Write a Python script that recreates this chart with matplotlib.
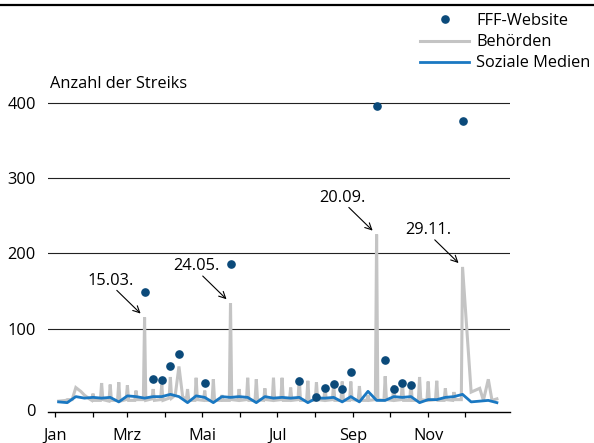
import matplotlib
matplotlib.use('Agg')
import matplotlib.pyplot as plt
from matplotlib.lines import Line2D
import pandas as pd

plt.rcParams['font.family'] = ['Open Sans', 'DejaVu Sans']
plt.rcParams['font.size'] = 11.8

# FFF-Website: Freitage mit gemeldeten Streiks
fff_dates = ['2019-03-15', '2019-03-22', '2019-03-29', '2019-04-05', '2019-04-12',
             '2019-05-03', '2019-05-24', '2019-07-19', '2019-08-02', '2019-08-09',
             '2019-08-16', '2019-08-23', '2019-08-30', '2019-09-20', '2019-09-27',
             '2019-10-04', '2019-10-11', '2019-10-18', '2019-11-29']
fff_values = [149, 34, 32, 51, 66, 28, 186, 31, 10, 22, 27, 20, 43, 395, 59, 20, 28, 26, 376]

# Behoerden: Tage mit Meldungen
behoerden_dates = [
    '2019-01-04', '2019-01-10', '2019-01-11', '2019-01-15', '2019-01-18', '2019-01-22',
    '2019-01-25', '2019-01-29', '2019-01-31', '2019-02-01', '2019-02-02',
    '2019-02-07', '2019-02-08', '2019-02-09', '2019-02-14', '2019-02-15', '2019-02-16',
    '2019-02-21', '2019-02-22', '2019-02-23', '2019-02-28', '2019-03-01', '2019-03-02',
    '2019-03-07', '2019-03-08', '2019-03-09', '2019-03-14', '2019-03-15', '2019-03-16',
    '2019-03-21', '2019-03-22', '2019-03-23', '2019-03-28', '2019-03-29', '2019-03-30',
    '2019-04-04', '2019-04-05', '2019-04-06', '2019-04-09', '2019-04-12', '2019-04-15',
    '2019-04-18', '2019-04-19', '2019-04-20', '2019-04-25', '2019-04-26', '2019-04-27',
    '2019-05-02', '2019-05-03', '2019-05-04', '2019-05-09', '2019-05-10', '2019-05-11',
    '2019-05-16', '2019-05-17', '2019-05-18', '2019-05-23', '2019-05-24', '2019-05-25',
    '2019-05-30', '2019-05-31', '2019-06-01', '2019-06-06', '2019-06-07', '2019-06-08',
    '2019-06-13', '2019-06-14', '2019-06-15', '2019-06-20', '2019-06-21', '2019-06-22',
    '2019-06-27', '2019-06-28', '2019-06-29', '2019-07-04', '2019-07-05', '2019-07-06',
    '2019-07-11', '2019-07-12', '2019-07-13', '2019-07-18', '2019-07-19', '2019-07-20',
    '2019-07-25', '2019-07-26', '2019-07-27', '2019-08-01', '2019-08-02', '2019-08-03',
    '2019-08-08', '2019-08-09', '2019-08-10', '2019-08-15', '2019-08-16', '2019-08-17',
    '2019-08-22', '2019-08-23', '2019-08-24', '2019-08-29', '2019-08-30', '2019-08-31',
    '2019-09-05', '2019-09-06', '2019-09-07', '2019-09-12', '2019-09-13', '2019-09-14',
    '2019-09-19', '2019-09-20', '2019-09-21', '2019-09-26', '2019-09-27', '2019-09-28',
    '2019-10-03', '2019-10-04', '2019-10-05', '2019-10-10', '2019-10-11', '2019-10-12',
    '2019-10-17', '2019-10-18', '2019-10-19', '2019-10-24', '2019-10-25', '2019-10-26',
    '2019-10-31', '2019-11-01', '2019-11-02', '2019-11-07', '2019-11-08', '2019-11-09',
    '2019-11-14', '2019-11-15', '2019-11-16', '2019-11-21', '2019-11-22', '2019-11-23',
    '2019-11-28', '2019-11-29', '2019-12-06', '2019-12-13', '2019-12-16', '2019-12-20',
    '2019-12-23', '2019-12-27']
behoerden_values = [
    4, 5, 6, 6, 22, 17,
    12, 7, 5, 14, 5,
    5, 28, 6, 4, 26, 5,
    5, 29, 4, 6, 25, 5,
    5, 18, 6, 6, 115, 5,
    7, 20, 5, 6, 26, 5,
    8, 36, 8, 12, 50, 10,
    6, 20, 5, 5, 35, 6,
    5, 18, 5, 5, 33, 5,
    5, 12, 5, 5, 134, 6,
    5, 20, 5, 6, 35, 5,
    5, 33, 6, 5, 21, 6,
    5, 35, 5, 6, 35, 5,
    5, 22, 5, 6, 35, 5,
    5, 31, 5, 5, 29, 6,
    5, 24, 5, 6, 27, 5,
    5, 30, 5, 5, 30, 6,
    5, 24, 5, 5, 12, 5,
    6, 225, 6, 5, 37, 6,
    5, 25, 5, 6, 31, 5,
    5, 29, 5, 5, 36, 6,
    5, 30, 5, 6, 31, 5,
    5, 21, 6, 5, 16, 6,
    6, 182, 16, 21, 5, 33,
    5, 7]

# Soziale Medien: woechentlich (Freitage)
social_dates = pd.date_range('2019-01-04', '2019-12-27', freq='7D')
social_values = [3, 2, 10, 8, 9, 8, 9, 3, 11, 10, 8, 10, 10, 13, 10, 2, 11, 9, 2, 10,
                 9, 10, 9, 2, 10, 8, 9, 8, 9, 2, 8, 8, 9, 3, 10, 3, 17, 5, 5, 10,
                 9, 10, 2, 6, 6, 9, 10, 13, 3, 4, 5, 2]

highlights = ['2019-03-15', '2019-05-24', '2019-09-20', '2019-11-29']
highlight_labels = ['15.03.', '24.05.', '20.09.', '29.11.']

fig = plt.figure(figsize=(5.94, 4.43), dpi=100)
ax = fig.add_axes([48/594, 1 - 411.7/443, 462/594, 316.7/443])

b_dates = pd.to_datetime(behoerden_dates)
ax.plot(b_dates, behoerden_values, color='#c4c4c4', lw=2.2, zorder=2,
        solid_joinstyle='miter', label='Behörden')
ax.plot(social_dates, social_values, color='#1a78c2', lw=2.0, zorder=3,
        label='Soziale Medien')
ax.plot(pd.to_datetime(fff_dates), fff_values, 'o', color='#0b4a7a', ms=5.2,
        zorder=4, label='FFF-Website')

for d, lab in zip(highlights, highlight_labels):
    d = pd.Timestamp(d)
    v = behoerden_values[list(b_dates).index(d)]
    ax.annotate('', xy=(d, v), xytext=(-20, 19.5), textcoords='offset points',
                arrowprops=dict(arrowstyle='->', color='black', lw=0.8,
                                shrinkA=0, shrinkB=4))
    ax.annotate(lab, xy=(d, v), xytext=(-24.5, 26.5), textcoords='offset points',
                ha='center', va='center')

ax.set_xlim(pd.Timestamp('2018-12-26 08:00'), pd.Timestamp('2020-01-06 16:00'))
ax.set_ylim(-10, 410)

ax.set_yticks([100, 200, 300, 400])
ax.yaxis.grid(True, color='#222222', lw=0.8)
ax.set_axisbelow(True)
ax.tick_params(axis='y', length=0, pad=8.8)
ax.annotate('0', xy=(0, 0), xycoords='axes fraction', xytext=(-8.8, 0),
            textcoords='offset points', ha='right', va='center')

month_ticks = pd.date_range('2019-01-01', '2019-12-01', freq='MS')
month_names = ['Jan', '', 'Mrz', '', 'Mai', '', 'Jul', '', 'Sep', '', 'Nov', '']
ax.set_xticks(month_ticks)
ax.set_xticklabels(month_names)
ax.tick_params(axis='x', length=3.6, width=0.9, pad=8)

for s in ['top', 'right', 'left']:
    ax.spines[s].set_visible(False)
ax.spines['bottom'].set_linewidth(1.0)

ax.text(0.004, 1.035, 'Anzahl der Streiks', transform=ax.transAxes,
        ha='left', va='center')

handles, labels = ax.get_legend_handles_labels()
order = [2, 0, 1]
fig.legend([handles[i] for i in order], [labels[i] for i in order],
           loc='upper left', bbox_to_anchor=(420/594, 1 - 13/443),
           frameon=False, handlelength=3.0, handletextpad=0.42,
           labelspacing=0.32, borderpad=0, borderaxespad=0)

fig.add_artist(Line2D([0, 1], [1 - 5/443, 1 - 5/443], transform=fig.transFigure,
                      color='black', lw=1.6))

fig.savefig('out.png', dpi=100)
